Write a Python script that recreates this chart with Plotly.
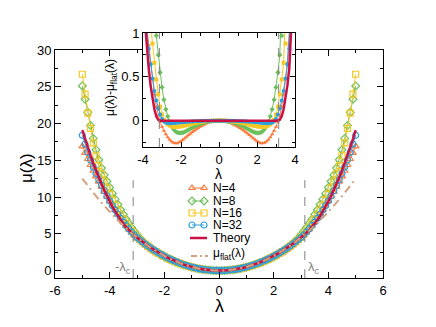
import plotly.graph_objects as go

# lambda grid (curves are symmetric in lambda, values read for lambda >= 0)
lam_half = [0.0, 0.1, 0.2, 0.3, 0.4, 0.5, 0.6, 0.7, 0.8, 0.9,
            1.0, 1.1, 1.2, 1.3, 1.4, 1.5, 1.6, 1.7, 1.8, 1.9,
            2.0, 2.1, 2.2, 2.3, 2.4, 2.5, 2.6, 2.7, 2.8, 2.9,
            3.0, 3.1, 3.2, 3.3, 3.4, 3.5, 3.6, 3.7, 3.8, 3.9,
            4.0, 4.1, 4.2, 4.3, 4.4, 4.5, 4.6, 4.7, 4.8, 4.9, 5.0]

# mu_flat(lambda)
mu_flat_half = [0.0, 0.005, 0.02, 0.045, 0.08, 0.125, 0.18, 0.245, 0.32, 0.405,
                0.5, 0.605, 0.72, 0.845, 0.98, 1.125, 1.28, 1.445, 1.62, 1.805,
                2.0, 2.205, 2.42, 2.645, 2.88, 3.125, 3.38, 3.645, 3.92, 4.205,
                4.5, 4.805, 5.12, 5.445, 5.78, 6.125, 6.48, 6.845, 7.22, 7.605,
                8.0, 8.405, 8.82, 9.245, 9.68, 10.125, 10.58, 11.045, 11.52, 12.005, 12.5]

# mu(lambda) - mu_flat(lambda), as in the inset
d_n4 = [0, -0.001, -0.003, -0.007, -0.012, -0.018, -0.026, -0.035, -0.045, -0.057,
        -0.07, -0.083, -0.098, -0.113, -0.13, -0.146, -0.163, -0.18, -0.2, -0.218,
        -0.234, -0.247, -0.256, -0.258, -0.252, -0.238, -0.218, -0.19, -0.155, -0.115,
        -0.07, -0.01, 0.06, 0.16, 0.3, 0.47, 0.66, 0.86, 1.05, 1.25,
        1.45, 1.67, 1.9, 2.15, 2.42, 2.7, 3.0, 3.32, 3.66, 4.02, 4.4]
d_n8 = [0, 0, -0.001, -0.003, -0.005, -0.008, -0.012, -0.017, -0.023, -0.03,
        -0.038, -0.047, -0.057, -0.068, -0.08, -0.092, -0.104, -0.116, -0.127, -0.135,
        -0.14, -0.14, -0.134, -0.12, -0.095, -0.06, -0.01, 0.05, 0.13, 0.24,
        0.38, 0.55, 0.75, 0.97, 1.2, 1.5, 1.8, 2.15, 2.5, 2.9,
        3.3, 3.75, 4.2, 4.7, 5.4, 6.3, 7.4, 8.7, 10.0, 11.3, 12.6]
d_n16 = [0, 0, 0, -0.001, -0.002, -0.003, -0.005, -0.007, -0.009, -0.012,
         -0.015, -0.019, -0.023, -0.028, -0.033, -0.039, -0.044, -0.05, -0.055, -0.06,
         -0.064, -0.068, -0.07, -0.071, -0.07, -0.065, -0.055, -0.04, -0.02, 0.01,
         0.07, 0.16, 0.3, 0.47, 0.66, 0.88, 1.12, 1.4, 1.7, 2.03,
         2.4, 2.85, 3.35, 3.9, 4.6, 5.5, 6.8, 8.3, 9.9, 12.0, 14.2]
d_n32 = [0, 0, 0, 0, 0, -0.001, -0.001, -0.002, -0.002, -0.003,
         -0.004, -0.005, -0.006, -0.007, -0.008, -0.01, -0.011, -0.013, -0.015, -0.017,
         -0.019, -0.021, -0.023, -0.025, -0.027, -0.028, -0.028, -0.026, -0.02, -0.01,
         0.02, 0.07, 0.14, 0.23, 0.34, 0.48, 0.64, 0.82, 1.02, 1.24,
         1.48, 1.75, 2.04, 2.36, 2.7, 3.08, 3.5, 4.0, 4.55, 5.2, 5.9]
d_theory = [0, 0, 0, 0, 0, 0, 0, 0, 0, 0,
            0, 0, 0, 0, 0, 0, 0, 0, 0, 0,
            0, 0, 0, 0, 0, 0, 0, 0, 0, 0,
            0, 0, 0.01, 0.05, 0.13, 0.25, 0.4, 0.6, 0.83, 1.1,
            1.41, 1.75, 2.13, 2.56, 3.02, 3.51, 4.05, 4.62, 5.24, 5.88, 6.6]

lam_c = 3.14

main_xticks = [-6, -4, -2, 0, 2, 4, 6]
main_xtext = ["-6", "-4", "-2", "0", "2", "4", "6"]
main_yticks = [0, 5, 10, 15, 20, 25, 30]
inset_xticks = [-4, -2, 0, 2, 4]
inset_xtext = ["-4", "-2", "0", "2", "4"]
inset_yticks = [0, 0.5, 1]
inset_ytext = ["0", "0.5", "1"]


def mirror(half):
    return half[:0:-1] + half


lam = [-v for v in lam_half[:0:-1]] + lam_half
mu_flat = mirror(mu_flat_half)

FONT = "Liberation Sans, Arial, sans-serif"
W, H = 436, 327
OX, OY = 8, 8  # page body margin


def dom_x(a, b):
    return [(a - OX) / W, (b - OX) / W]


def dom_y(top, bottom):
    return [(H - (bottom - OY)) / H, (H - (top - OY)) / H]


RED = "#CC1044"
TAN = "#D4A27E"
GREY = "#808080"
series = [
    ("N=4", d_n4, "#FF7A3C", "triangle-up"),
    ("N=8", d_n8, "#6CBF5A", "diamond"),
    ("N=16", d_n16, "#F5C825", "square"),
    ("N=32", d_n32, "#2B9FD9", "circle"),
]

fig = go.Figure()

for name, d, color, sym in series:
    d_full = mirror(d)
    fig.add_trace(go.Scatter(
        x=lam, y=[f + v for f, v in zip(mu_flat, d_full)],
        mode="lines+markers", name=name,
        line=dict(color=color, width=1),
        marker=dict(symbol=sym + "-open", size=6, color=color, line=dict(width=1.2)),
        xaxis="x", yaxis="y",
    ))

th_full = mirror(d_theory)
fig.add_trace(go.Scatter(
    x=lam, y=[f + v for f, v in zip(mu_flat, th_full)],
    mode="lines", name="Theory", line=dict(color=RED, width=2.5),
    xaxis="x", yaxis="y",
))
fig.add_trace(go.Scatter(
    x=lam, y=mu_flat, mode="lines", name="flat",
    line=dict(color=TAN, width=2, dash="8px,4px,2px,4px"),
    xaxis="x", yaxis="y",
))

# inset
for name, d, color, sym in series:
    fig.add_trace(go.Scatter(
        x=lam, y=mirror(d), mode="lines+markers",
        line=dict(color=color, width=1),
        marker=dict(symbol=sym, size=4, color=color),
        xaxis="x2", yaxis="y2",
    ))
fig.add_trace(go.Scatter(
    x=lam, y=th_full, mode="lines", line=dict(color=RED, width=2.5),
    xaxis="x2", yaxis="y2",
))

# hand-drawn legend (page pixel frame on x3/y3)
legend_rows = [("N=4", 188), ("N=8", 201), ("N=16", 213), ("N=32", 225)]
for (label, ry), (_, _, color, sym) in zip(legend_rows, series):
    fig.add_trace(go.Scatter(
        x=[192, 204], y=[ry, ry], mode="lines+markers",
        line=dict(color=color, width=1),
        marker=dict(symbol=sym + "-open", size=6, color=color, line=dict(width=1.2)),
        xaxis="x3", yaxis="y3",
    ))
fig.add_trace(go.Scatter(x=[190, 207], y=[238, 238], mode="lines",
                         line=dict(color=RED, width=2.5), xaxis="x3", yaxis="y3"))
fig.add_trace(go.Scatter(x=[191, 208], y=[256, 256], mode="lines",
                         line=dict(color=TAN, width=2, dash="6px,3px,2px,3px"),
                         xaxis="x3", yaxis="y3"))

axis_common = dict(
    ticks="inside", showline=True, linecolor="black", linewidth=1,
    mirror="allticks", showgrid=False, zeroline=False, automargin=False,
    tickfont=dict(family=FONT, size=13, color="black"),
    tickcolor="black",
)

fig.update_layout(
    width=W, height=H,
    margin=dict(l=0, r=0, t=0, b=0),
    paper_bgcolor="white", plot_bgcolor="rgba(0,0,0,0)",
    font=dict(family=FONT, color="black"),
    showlegend=False,
    xaxis=dict(domain=dom_x(55, 383), range=[-6, 6], anchor="y",
               tickvals=main_xticks, ticktext=main_xtext, ticklen=6,
               minor=dict(dtick=1, tick0=0, ticklen=3, ticks="inside", tickcolor="black"),
               **axis_common),
    yaxis=dict(domain=dom_y(50, 278), range=[-1, 30], anchor="x",
               tickvals=main_yticks, ticklen=6,
               minor=dict(dtick=2.5, tick0=0, ticklen=3, ticks="inside", tickcolor="black"),
               **axis_common),
    xaxis2=dict(domain=dom_x(143, 295), range=[-4, 4], anchor="y2",
                tickvals=inset_xticks, ticktext=inset_xtext, ticklen=5,
                minor=dict(dtick=1, tick0=0, ticklen=3, ticks="inside", tickcolor="black"),
                **axis_common),
    yaxis2=dict(domain=dom_y(33, 147), range=[-0.3, 1], anchor="x2",
                tickvals=inset_yticks, ticktext=inset_ytext, ticklen=5,
                minor=dict(dtick=0.25, tick0=0, ticklen=3, ticks="inside", tickcolor="black"),
                **axis_common),
    xaxis3=dict(domain=[0, 1], range=[OX, W + OX], anchor="y3", visible=False,
                fixedrange=True),
    yaxis3=dict(domain=[0, 1], range=[H + OY, OY], anchor="x3", visible=False,
                fixedrange=True),
)

# white backing for the inset, hides the main frame behind it
fig.add_shape(type="rect", xref="x2", yref="y2", x0=-4, x1=4, y0=-0.3, y1=1,
              fillcolor="white", line=dict(width=0), layer="below")

# lambda_c markers
for xc in (-lam_c, lam_c):
    fig.add_shape(type="line", xref="x", yref="y", x0=xc, x1=xc, y0=-1, y1=12.3,
                  line=dict(color=GREY, width=1, dash="dash"))
    fig.add_shape(type="line", xref="x2", yref="y2", x0=xc, x1=xc, y0=-0.3, y1=1,
                  line=dict(color=GREY, width=1, dash="dash"))

# texts, placed in page pixels
texts = [
    ("\u03bb", 219, 306, 18, "black", 0, "center"),
    ("\u03bc(\u03bb)", 26, 168, 17, "black", -90, "center"),
    ("\u03bc(\u03bb)-\u03bc<sub>flat</sub>(\u03bb)", 111, 88, 12, "black", -90, "center"),
    ("\u03bb", 218, 174, 14, "black", 0, "center"),
    ("-\u03bb<sub>c</sub>", 123, 267, 13, GREY, 0, "center"),
    ("\u03bb<sub>c</sub>", 314, 267, 13, GREY, 0, "center"),
    ("N=4", 211, 188, 12, "black", 0, "left"),
    ("N=8", 211, 201, 12, "black", 0, "left"),
    ("N=16", 211, 213, 12, "black", 0, "left"),
    ("N=32", 211, 225, 12, "black", 0, "left"),
    ("Theory", 211, 238, 12, "black", 0, "left"),
    ("\u03bc<sub>flat</sub>(\u03bb)", 211, 254, 12, "black", 0, "left"),
]
for txt, tx, ty, size, col, ang, anchor in texts:
    fig.add_annotation(xref="x3", yref="y3", x=tx, y=ty, text=txt, showarrow=False,
                       xanchor=anchor, yanchor="middle", textangle=ang,
                       font=dict(family=FONT, size=size, color=col))

fig.write_html("out.html")
